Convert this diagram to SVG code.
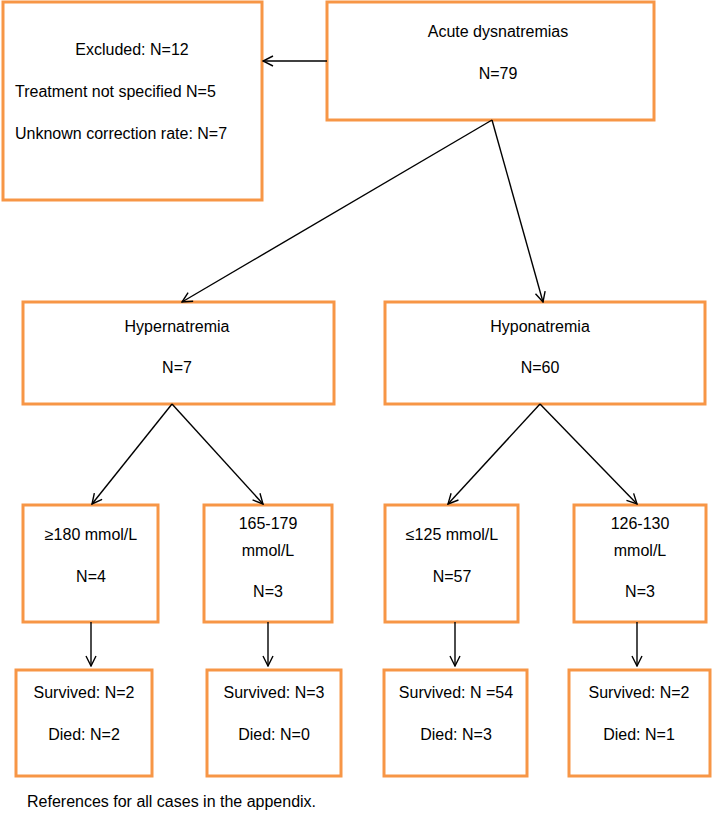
<svg xmlns="http://www.w3.org/2000/svg" width="712" height="814" viewBox="0 0 712 814">
<style>
.box{fill:#fff;stroke:#F79646;stroke-width:3}
.t{font-family:"Liberation Sans",Arial,sans-serif;font-size:16px;fill:#000}
.c{text-anchor:middle}
.conn line{stroke:#000;stroke-width:1.4;fill:none;marker-end:url(#ah)}
</style>
<defs>
<marker id="ah" viewBox="0 0 12 12" refX="11" refY="6" markerWidth="12" markerHeight="12" markerUnits="userSpaceOnUse" orient="auto">
<path d="M1,1 L11,6 L1,11" fill="none" stroke="#000" stroke-width="1.4"/>
</marker>
</defs>
<rect width="712" height="814" fill="#fff"/>
<g id="excluded">
<rect class="box" x="3" y="2" width="259" height="198"/>
<text class="t c" x="132" y="55">Excluded: N=12</text>
<text class="t" x="15" y="97">Treatment not specified N=5</text>
<text class="t" x="15" y="139">Unknown correction rate: N=7</text>
</g>
<g id="acute">
<rect class="box" x="327" y="2" width="327" height="118"/>
<text class="t c" x="498" y="37">Acute dysnatremias</text>
<text class="t c" x="498" y="79">N=79</text>
</g>
<g id="hyper">
<rect class="box" x="23" y="302" width="311" height="102"/>
<text class="t c" x="177" y="332">Hypernatremia</text>
<text class="t c" x="177" y="373">N=7</text>
</g>
<g id="hypo">
<rect class="box" x="385" y="302" width="320" height="102"/>
<text class="t c" x="540" y="332">Hyponatremia</text>
<text class="t c" x="540" y="373">N=60</text>
</g>
<g id="ge180">
<rect class="box" x="23" y="505" width="135" height="117"/>
<text class="t c" x="91" y="540">≥180 mmol/L</text>
<text class="t c" x="91" y="582">N=4</text>
</g>
<g id="r165">
<rect class="box" x="204" y="505" width="128" height="117"/>
<text class="t c" x="268" y="529">165-179</text>
<text class="t c" x="268" y="556">mmol/L</text>
<text class="t c" x="268" y="597">N=3</text>
</g>
<g id="le125">
<rect class="box" x="385" y="505" width="133" height="117"/>
<text class="t c" x="452" y="540">≤125 mmol/L</text>
<text class="t c" x="452" y="582">N=57</text>
</g>
<g id="r126">
<rect class="box" x="574" y="505" width="132" height="117"/>
<text class="t c" x="640" y="529">126-130</text>
<text class="t c" x="640" y="556">mmol/L</text>
<text class="t c" x="640" y="597">N=3</text>
</g>
<g id="out1">
<rect class="box" x="16" y="670" width="136" height="106"/>
<text class="t c" x="84" y="698">Survived: N=2</text>
<text class="t c" x="84" y="740">Died: N=2</text>
</g>
<g id="out2">
<rect class="box" x="207" y="670" width="134" height="106"/>
<text class="t c" x="274" y="698">Survived: N=3</text>
<text class="t c" x="274" y="740">Died: N=0</text>
</g>
<g id="out3">
<rect class="box" x="384" y="670" width="143" height="106"/>
<text class="t c" x="456" y="698">Survived: N =54</text>
<text class="t c" x="456" y="740">Died: N=3</text>
</g>
<g id="out4">
<rect class="box" x="569" y="670" width="141" height="106"/>
<text class="t c" x="639" y="698">Survived: N=2</text>
<text class="t c" x="639" y="740">Died: N=1</text>
</g>
<g id="connectors" class="conn">
<line x1="327" y1="61" x2="263" y2="61"/>
<line x1="492" y1="120" x2="182" y2="302"/>
<line x1="492" y1="120" x2="543" y2="302"/>
<line x1="172" y1="404" x2="92" y2="504"/>
<line x1="172" y1="404" x2="263" y2="504"/>
<line x1="540" y1="404" x2="448" y2="504"/>
<line x1="540" y1="404" x2="637" y2="504"/>
<line x1="91" y1="622" x2="91" y2="666"/>
<line x1="268" y1="622" x2="268" y2="666"/>
<line x1="455" y1="622" x2="455" y2="666"/>
<line x1="637" y1="622" x2="637" y2="666"/>
</g>
<text id="footer" class="t" x="27" y="807">References for all cases in the appendix.</text>
</svg>
